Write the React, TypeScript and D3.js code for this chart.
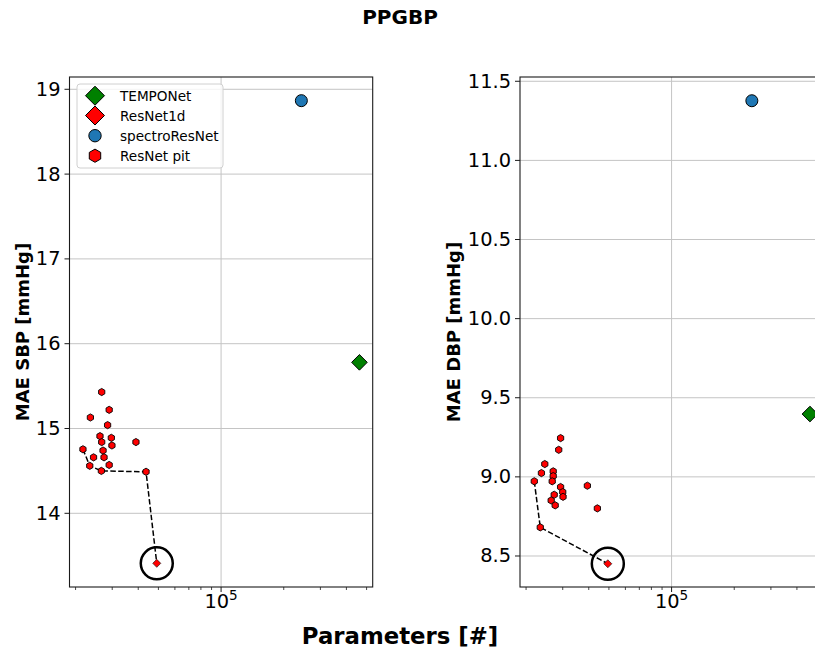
import React from 'react';
import * as d3 from 'd3';

const W = 815;
const H = 652;
const titleText = 'PPGBP';
const xLabelText = 'Parameters [#]';
const panelYLabels = ['MAE SBP [mmHg]', 'MAE DBP [mmHg]'];
const legendNames = ['TEMPONet', 'ResNet1d', 'spectroResNet', 'ResNet pit'];

// ResNet pit search points (SBP panel)
const pitParamsSBP = [26700, 29000, 23560, 28500, 26200, 29700, 26700, 39000, 29900, 21700, 27100, 24400, 27400, 23400, 29000, 26600, 43600];
const pitMaeSBP = [15.43, 15.22, 15.13, 15.04, 14.91, 14.89, 14.84, 14.84, 14.80, 14.755, 14.74, 14.66, 14.66, 14.56, 14.57, 14.50, 14.49];
// ResNet pit search points (DBP panel)
const pitParamsDBP = [29300, 28700, 24600, 23700, 27000, 27000, 21900, 26700, 39400, 29300, 30000, 27300, 30100, 26400, 27600, 44000, 23400];
const pitMaeDBP = [9.245, 9.171, 9.081, 9.024, 9.035, 9.005, 8.972, 8.972, 8.944, 8.936, 8.904, 8.887, 8.874, 8.851, 8.820, 8.801, 8.681];

// Reference models: [SBP, DBP]
const resnet1dParams = [49100, 49400];
const resnet1dMae = [13.41, 8.451];
const temponetParams = [462000, 462000];
const temponetMae = [15.78, 9.397];
const spectroParams = [243000, 243000];
const spectroMae = [18.866, 11.377];

const yTicksSBP = [14, 15, 16, 17, 18, 19];
const yTicksDBP = [8.5, 9.0, 9.5, 10.0, 10.5, 11.0, 11.5];
const xDomain = [18700, 535000];
const yDomainSBP = [13.131, 19.145];
const yDomainDBP = [8.304, 11.527];

const FONT = 'DejaVu Sans, sans-serif';
const GREEN = '#008000';
const BLUE = '#1f77b4';
const RED = '#ff0000';

function hexPath(cx: number, cy: number, r: number) {
  const pts = d3.range(6).map((k) => {
    const a = (-90 + 60 * k) * Math.PI / 180;
    return [cx + r * Math.cos(a), cy + r * Math.sin(a)];
  });
  return 'M' + pts.map((p) => p.join(',')).join('L') + 'Z';
}
function diamondPath(cx: number, cy: number, r: number) {
  return `M${cx},${cy - r}L${cx + r},${cy}L${cx},${cy + r}L${cx - r},${cy}Z`;
}

function pareto(px: number[], py: number[], fx: number, fy: number) {
  const idx = d3.range(px.length).sort((a, b) => px[a] - px[b] || py[a] - py[b]);
  const out: [number, number][] = [];
  let best = Infinity;
  for (const i of idx) {
    if (py[i] < best) {
      best = py[i];
      out.push([px[i], py[i]]);
    }
  }
  if (fy < best) out.push([fx, fy]);
  return out;
}

interface PanelProps {
  idx: number;
  x0: number;
  pitX: number[];
  pitY: number[];
  yDomain: number[];
  yTicks: number[];
  fmt: (v: number) => string;
}

const TOP = 77;
const BOTTOM = 587;
const PW = 303.2;

function Panel({ idx, x0, pitX, pitY, yDomain, yTicks, fmt }: PanelProps) {
  const x = d3.scaleLog().domain(xDomain).range([x0, x0 + PW]);
  const y = d3.scaleLinear().domain(yDomain).range([BOTTOM, TOP]);
  const majors: number[] = [];
  const minors: number[] = [];
  for (let k = 3; k <= 6; k++) {
    for (let m = 1; m <= 9; m++) {
      const v = m * Math.pow(10, k);
      if (v >= xDomain[0] && v <= xDomain[1]) (m === 1 ? majors : minors).push(v);
    }
  }
  const front = pareto(pitX, pitY, resnet1dParams[idx], resnet1dMae[idx]);
  const line = d3.line<[number, number]>().x((d) => x(d[0])).y((d) => y(d[1]));
  const clipId = `clip${idx}`;
  const fx = x(resnet1dParams[idx]);
  const fy = y(resnet1dMae[idx]);
  return (
    <g>
      <defs>
        <clipPath id={clipId}>
          <rect x={x0} y={TOP} width={PW} height={BOTTOM - TOP} />
        </clipPath>
      </defs>
      {/* grid */}
      {yTicks.map((t) => (
        <line key={'gy' + t} x1={x0} x2={x0 + PW} y1={y(t)} y2={y(t)} stroke="#c4c4c4" strokeWidth={1} />
      ))}
      {majors.map((t) => (
        <line key={'gx' + t} x1={x(t)} x2={x(t)} y1={TOP} y2={BOTTOM} stroke="#c4c4c4" strokeWidth={1} />
      ))}
      <g clipPath={`url(#${clipId})`}>
        <path d={line(front) || ''} fill="none" stroke="#000" strokeWidth={1.5} strokeDasharray="5.5,2.4" />
        {pitX.map((px, i) => (
          <path key={'p' + i} d={hexPath(x(px), y(pitY[i]), 3.6)} fill={RED} stroke="#000" strokeWidth={0.9} />
        ))}
        <path d={diamondPath(fx, fy, 4)} fill={RED} stroke="#000" strokeWidth={0.6} />
        <circle cx={fx} cy={fy} r={16} fill="none" stroke="#000" strokeWidth={2.5} />
        <path d={diamondPath(x(temponetParams[idx]), y(temponetMae[idx]), 7.8)} fill={GREEN} stroke="#000" strokeWidth={1} />
        <circle cx={x(spectroParams[idx])} cy={y(spectroMae[idx])} r={6} fill={BLUE} stroke="#000" strokeWidth={1} />
      </g>
      {/* spines */}
      <rect x={x0} y={TOP} width={PW} height={BOTTOM - TOP} fill="none" stroke="#1a1a1a" strokeWidth={1.1} />
      {/* y ticks */}
      {yTicks.map((t) => (
        <g key={'yt' + t}>
          <line x1={x0 - 5} x2={x0} y1={y(t)} y2={y(t)} stroke="#1a1a1a" strokeWidth={1} />
          <text x={x0 - 9} y={y(t)} textAnchor="end" dominantBaseline="central" fontFamily={FONT} fontSize={19.4} fill="#000">
            {fmt(t)}
          </text>
        </g>
      ))}
      {/* x ticks */}
      {minors.map((t) => (
        <line key={'mx' + t} x1={x(t)} x2={x(t)} y1={BOTTOM} y2={BOTTOM + 3} stroke="#1a1a1a" strokeWidth={0.8} />
      ))}
      {majors.map((t) => (
        <g key={'xt' + t}>
          <line x1={x(t)} x2={x(t)} y1={BOTTOM} y2={BOTTOM + 5} stroke="#1a1a1a" strokeWidth={1} />
          <text x={x(t)} y={BOTTOM + 21} textAnchor="middle" fontFamily={FONT} fontSize={19.4} fill="#000">
            10
            <tspan fontSize={13.6} dy={-8}>{String(Math.round(Math.log10(t)))}</tspan>
          </text>
        </g>
      ))}
      <text
        transform={`translate(${idx === 0 ? 22 : 453},${(TOP + BOTTOM) / 2}) rotate(-90)`}
        textAnchor="middle"
        dominantBaseline="central"
        fontFamily={FONT}
        fontWeight="bold"
        fontSize={18}
        fill="#000"
      >
        {panelYLabels[idx]}
      </text>
    </g>
  );
}

function Legend() {
  const lx = 77, ly = 84, lw = 146, lh = 84;
  const mx = 95;
  const rows = [95.7, 115.5, 135.7, 155.7];
  const markers = [
    <path key="m0" d={diamondPath(mx, rows[0], 9.5)} fill={GREEN} stroke="#000" strokeWidth={1} />,
    <path key="m1" d={diamondPath(mx, rows[1], 9.5)} fill={RED} stroke="#000" strokeWidth={1} />,
    <circle key="m2" cx={mx} cy={rows[2]} r={6.2} fill={BLUE} stroke="#000" strokeWidth={1} />,
    <path key="m3" d={hexPath(mx, rows[3], 6.6)} fill={RED} stroke="#000" strokeWidth={1} />,
  ];
  return (
    <g>
      <rect x={lx} y={ly} width={lw} height={lh} rx={3} fill="#fff" fillOpacity={0.8} stroke="#d0d0d0" strokeWidth={1} />
      {markers}
      {legendNames.map((n, i) => (
        <text key={n} x={120} y={rows[i]} dominantBaseline="central" fontFamily={FONT} fontSize={13.6} fill="#000">
          {n}
        </text>
      ))}
    </g>
  );
}

export default function App() {
  return (
    <>
      <style>{`body{margin:0;overflow:hidden}`}</style>
      <svg width={W} height={H} style={{ position: 'absolute', left: 0, top: 0, background: '#fff' }}>
        <rect x={0} y={0} width={W} height={H} fill="#fff" />
        <text x={400} y={24} textAnchor="middle" fontFamily={FONT} fontWeight="bold" fontSize={20} fill="#000">
          {titleText}
        </text>
        <Panel idx={0} x0={69.5} pitX={pitParamsSBP} pitY={pitMaeSBP} yDomain={yDomainSBP} yTicks={yTicksSBP} fmt={d3.format('d')} />
        <Panel idx={1} x0={520} pitX={pitParamsDBP} pitY={pitMaeDBP} yDomain={yDomainDBP} yTicks={yTicksDBP} fmt={d3.format('.1f')} />
        <Legend />
        <text x={400} y={644} textAnchor="middle" fontFamily={FONT} fontWeight="bold" fontSize={22.8} fill="#000">
          {xLabelText}
        </text>
      </svg>
    </>
  );
}
